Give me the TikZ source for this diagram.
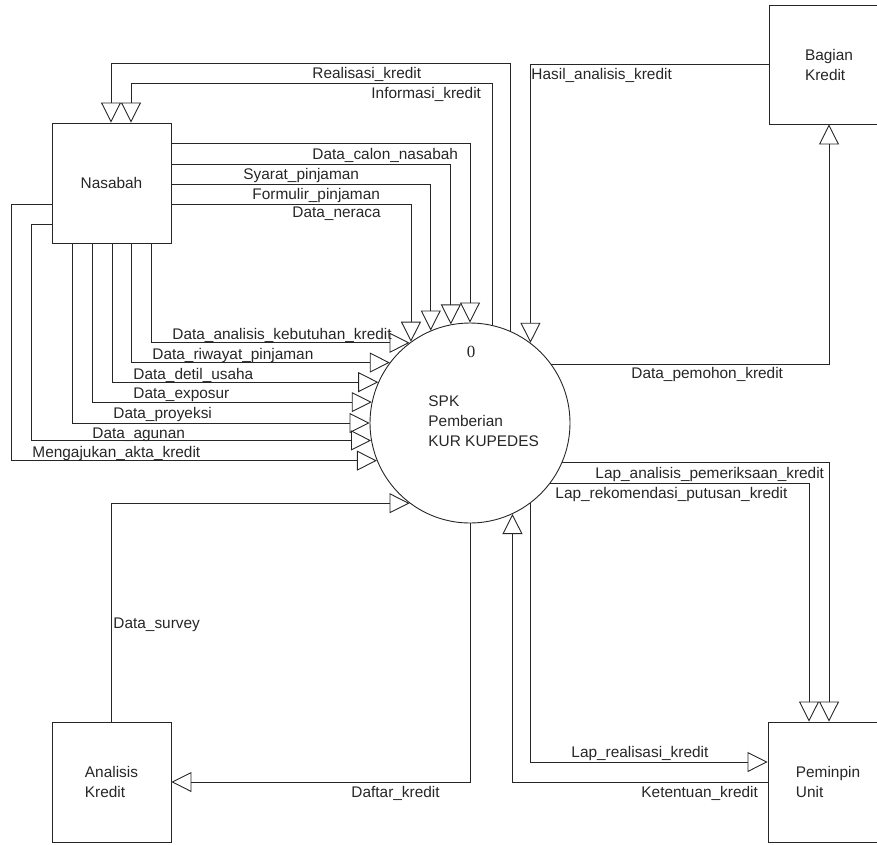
\documentclass[tikz,border=0pt]{standalone}
\usepackage{fontspec}
\setmainfont{Liberation Sans}
\newfontfamily\numfont{Liberation Serif}
\usetikzlibrary{arrows.meta}

\begin{document}
\begin{tikzpicture}[
  x=1pt, y=-1pt,
  font=\fontsize{15.4}{20}\selectfont,
  color=black!85, line width=.9pt,
  ent/.style={draw, rectangle, minimum width=119pt, minimum height=120pt, inner sep=0pt, align=left},
  proc/.style={draw, circle, minimum size=200pt, inner sep=0pt},
  flow/.style={draw, -{Triangle[open,length=20pt,width=20pt]}},
  lbl/.style={anchor=base west, inner sep=0pt}
]
\useasboundingbox (0,0) rectangle (877,844);
\clip (0,0) rectangle (877,844);

% entitas dan proses
\node[ent] (nas) at (111.5,183) {Nasabah};
\node[ent, minimum width=120pt, minimum height=119pt] (bk) at (829,64.5) {Bagian\\Kredit};
\node[ent] (ak) at (111.5,782) {Analisis\\Kredit};
\node[ent, minimum width=120pt] (pu) at (828,782) {Peminpin\\Unit};
\node[proc] (proc) at (470,423) {};
\node[font=\numfont\fontsize{17}{20}\selectfont, anchor=base, inner sep=0pt] (pnum) at (471,357) {0};
\node[anchor=west, align=left, inner sep=0pt] (pname) at (428,421.5) {SPK\\Pemberian\\KUR KUPEDES};

% proses -> nasabah
\draw[flow] (proc.66.42) |- ([xshift=-0.5pt,yshift=59pt]nas.north) -- ([xshift=-0.5pt]nas.north);
\draw[flow] (proc.77.88) |- ([xshift=19.5pt,yshift=39pt]nas.north) -- ([xshift=19.5pt]nas.north);

% nasabah -> proses
\foreach \dy/\ang in {40/90, 19/101.54, -1/113.58, -21/126.87}
  \draw[flow] ([yshift=\dy pt]nas.east) -| (proc.\ang);
\foreach \dx/\ang in {39.5/127.81, 19.5/143.13, 0.5/156.42, -19.5/168.46, -39.5/180}
  \draw[flow] ([xshift=\dx pt]nas.south) |- (proc.\ang);
\draw[flow] ([yshift=-41pt]nas.west) -- ++(-20,0) |- (proc.190.95);
\draw[flow] ([yshift=-21pt]nas.west) -- ++(-40,0) |- (proc.202.95);

% bagian kredit
\draw[flow] (bk.west) -| (proc.53.13);
\draw[flow] (proc.36.87) -| (bk.south);

% peminpin unit
\draw[flow] (proc.-23.58) -| ([xshift=1pt]pu.north);
\draw[flow] (proc.-37.59) -| ([xshift=-19pt]pu.north);
\draw[flow] (proc.-53.13) |- ([yshift=20pt]pu.west);
\draw[flow] (pu.west) -| (proc.-65.8);

% analisis kredit
\draw[flow] (ak.north) |- (proc.233.13);
\draw[flow] (proc.south) |- (ak.east);

% label aliran data
\foreach \x/\y/\t [count=\i] in {
    312/78/Realisasi\_kredit, 371/98/Informasi\_kredit,
    312/159/Data\_calon\_nasabah, 243/179/Syarat\_pinjaman,
    252/199/Formulir\_pinjaman, 292/217/Data\_neraca,
    172/339/Data\_analisis\_kebutuhan\_kredit, 152/359/Data\_riwayat\_pinjaman,
    133/379/Data\_detil\_usaha, 133/398/Data\_exposur,
    113/418/Data\_proyeksi, 92/438/Data\_agunan,
    32/457/Mengajukan\_akta\_kredit, 531/79/Hasil\_analisis\_kredit,
    631/378/Data\_pemohon\_kredit, 595/478/Lap\_analisis\_pemeriksaan\_kredit,
    555/498/Lap\_rekomendasi\_putusan\_kredit, 571/757/Lap\_realisasi\_kredit,
    641/797/Ketentuan\_kredit, 113/628/Data\_survey, 351/797/Daftar\_kredit}
  \node[lbl] (lab\i) at (\x,\y) {\t};

\end{tikzpicture}
\end{document}
